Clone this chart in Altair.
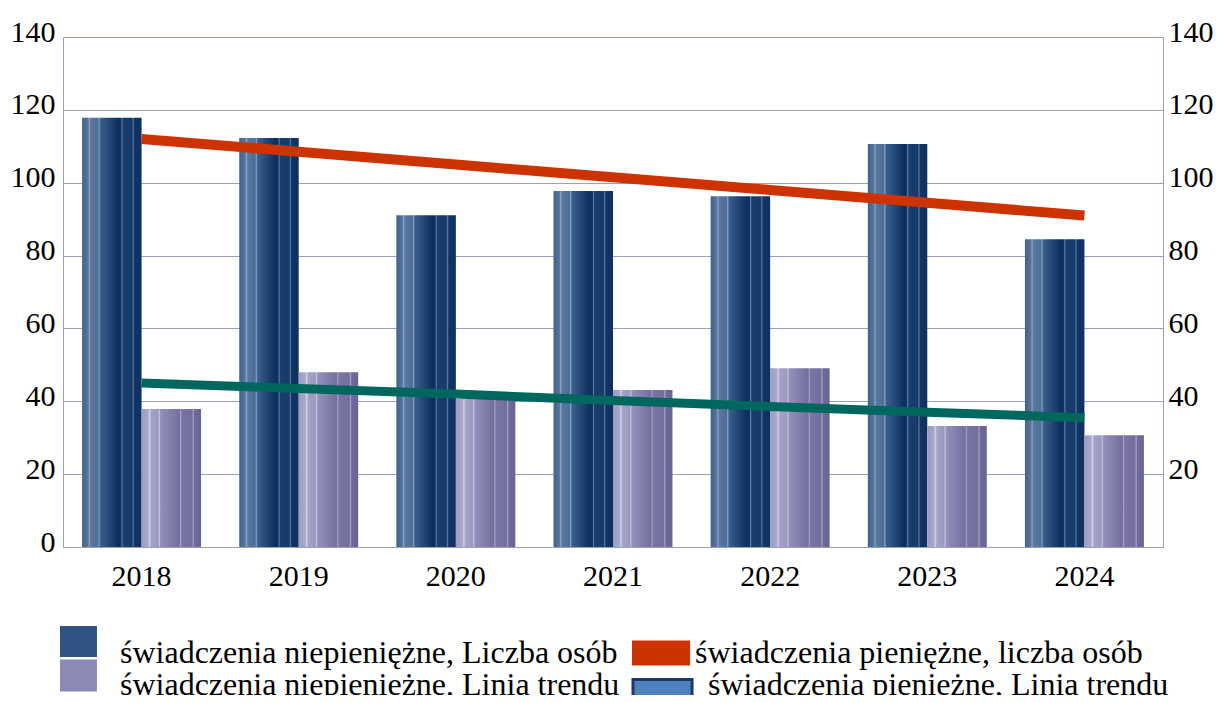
import altair as alt
import pandas as pd

# ---------------- data ----------------
years = ["2018", "2019", "2020", "2021", "2022", "2023", "2024"]
niepieniezne_liczba = [117.8, 112.3, 91.1, 97.7, 96.3, 110.6, 84.5]   # dark bars
niepieniezne_trend = [37.9, 48.0, 40.6, 43.1, 49.1, 33.2, 30.7]      # lavender bars
pieniezne_liczba = [112.0, 108.5, 105.0, 101.5, 98.0, 94.5, 91.0]    # red line
pieniezne_trend = [45.0, 43.5, 42.0, 40.2, 38.6, 37.0, 35.5]         # green line
y_ticks_left = [0, 20, 40, 60, 80, 100, 120, 140]
y_ticks_right = [20, 40, 60, 80, 100, 120, 140]

L0 = "świadczenia niepieniężne, Liczba osób"
L1 = "świadczenia pieniężne, liczba osób"
L2 = "świadczenia niepieniężne, Linia trendu"
L3 = "świadczenia pieniężne, Linia trendu"

FONT = "Liberation Serif, Times New Roman, serif"
FS = 30
LFS = 32
GRID = "#9d9dc0"

dark_df = pd.DataFrame({"year": years, "value": niepieniezne_liczba, "series": L0})
lav_df = pd.DataFrame({"year": years, "value": niepieniezne_trend, "series": L2})
red_df = pd.DataFrame({"year": years, "value": pieniezne_liczba})
green_df = pd.DataFrame({"year": years, "value": pieniezne_trend})

# ---------------- styles ----------------
dark_stops = [
    (0.00, "#41618c"), (0.10, "#57769e"), (0.12, "#8da2bf"), (0.145, "#5a78a0"),
    (0.27, "#4d6d97"), (0.285, "#8ea3c0"), (0.31, "#3b5f8c"), (0.62, "#0b2d5c"),
    (0.655, "#123664"), (0.67, "#5f7fa8"), (0.69, "#1a3e6c"), (0.84, "#163a69"),
    (0.86, "#5778a0"), (0.88, "#123564"), (1.00, "#0d3060"),
]
lav_stops = [
    (0.00, "#9c9cc2"), (0.11, "#a8a8ca"), (0.135, "#d2d2e6"), (0.16, "#a4a4c6"),
    (0.28, "#9a98c0"), (0.30, "#c6c6dc"), (0.32, "#9490ba"), (0.64, "#736e9f"),
    (0.655, "#a9a7c9"), (0.675, "#7a75a3"), (0.85, "#736e9e"), (0.87, "#a5a3c6"),
    (0.89, "#6e6a9a"), (1.00, "#686494"),
]


def grad(stops):
    return alt.Gradient(
        gradient="linear",
        stops=[alt.GradientStop(offset=o, color=c) for o, c in stops],
        x1=0, x2=1, y1=0, y2=0,
    )


dark_grad = grad(dark_stops)
lav_grad = grad(lav_stops)

x_scale = alt.Scale(domain=years, paddingInner=0.243, paddingOuter=0.1215)
y_scale = alt.Scale(domain=[0, 140], nice=False, zero=True)
xoff_scale = alt.Scale(domain=[L0, L2], paddingInner=0, paddingOuter=0)

x_enc = alt.X("year:N", scale=x_scale, title=None,
              axis=alt.Axis(labelAngle=0, ticks=False, domain=False, labelPadding=14,
                            labelFont=FONT, labelFontSize=FS, labelColor="black",
                            labelBaseline="top"))

left_axis = alt.Axis(values=y_ticks_left, grid=True, gridColor=GRID, gridWidth=1,
                     ticks=False, domain=False, labelPadding=8, labelFont=FONT,
                     labelFontSize=FS, labelColor="black", labelOffset=-5)
right_axis = alt.Axis(orient="right", values=y_ticks_right, grid=False, ticks=False,
                      domain=False, labelPadding=5, labelFont=FONT, labelFontSize=FS,
                      labelColor="black", labelOffset=-5)

dark_bars = alt.Chart(dark_df).mark_bar(color=dark_grad, strokeWidth=0).encode(
    x=x_enc,
    xOffset=alt.XOffset("series:N", scale=xoff_scale),
    y=alt.Y("value:Q", scale=y_scale, axis=left_axis, title=None),
)
lav_bars = alt.Chart(lav_df).mark_bar(color=lav_grad, strokeWidth=0).encode(
    x=x_enc,
    xOffset=alt.XOffset("series:N", scale=xoff_scale),
    y=alt.Y("value:Q", scale=y_scale, axis=None),
)
red_line = alt.Chart(red_df).mark_line(color="#cc3300", strokeWidth=10, strokeCap="butt").encode(
    x=x_enc,
    y=alt.Y("value:Q", scale=y_scale, axis=right_axis, title=None),
)
green_line = alt.Chart(green_df).mark_line(color="#00675f", strokeWidth=9, strokeCap="butt").encode(
    x=x_enc,
    y=alt.Y("value:Q", scale=y_scale, axis=None),
)


# one single-entry legend per item so that every swatch can sit where the reference has it
def legend_item(label, fill, path, lx, ly, label_offset, stroke=None):
    kw = dict(
        title=None, orient="none", legendX=lx, legendY=ly, symbolSize=1089,
        symbolType=path, symbolOpacity=1, labelFont=FONT, labelFontSize=LFS,
        labelColor="black", labelLimit=900, labelOffset=label_offset, padding=0, offset=0,
    )
    if stroke:
        kw.update(symbolStrokeColor=stroke, symbolStrokeWidth=3)
    else:
        kw.update(symbolStrokeWidth=0)
    df = pd.DataFrame({"year": [years[0]], "value": [0], "legend": [label]})
    return alt.Chart(df).mark_point(filled=True, size=0).encode(
        x=x_enc,
        y=alt.Y("value:Q", scale=y_scale, axis=None),
        color=alt.Color("legend:N", scale=alt.Scale(domain=[label], range=[fill]),
                        legend=alt.Legend(**kw)),
        opacity=alt.value(0),
    )


# swatch paths: unit = 16.5px, nominal symbol box spans -1..1
leg0 = legend_item(L0, "#2f5383", "M-1,-1.64H1.24V0.24H-1Z", -3, 599.5, 27)
leg2 = legend_item(L2, "#8b89b6", "M-1,-1.52H1.24V0.42H-1Z", -3, 631, 27)
leg1 = legend_item(L1, "#cc3300", "M-1,-0.73H2.52V0.79H-1Z", 569, 599, 30)
leg3 = legend_item(L3, "#4f81bd", "M-0.91,-0.33H2.67V0.82H-0.91Z", 567, 630, 42, stroke="#1f3864")

chart = (
    alt.layer(dark_bars, lav_bars, red_line, green_line, leg0, leg1, leg2, leg3)
    .resolve_axis(y="independent")
    .resolve_scale(color="independent")
    .properties(
        width=1100, height=510,
        autosize=alt.AutoSizeParams(type="none"),
        padding={"left": 55, "top": 29, "right": 50, "bottom": 148},
        background="white",
    )
    .configure_view(stroke=GRID, strokeWidth=1)
)

chart.save("out.html", embed_options={"renderer": "svg", "actions": False})
